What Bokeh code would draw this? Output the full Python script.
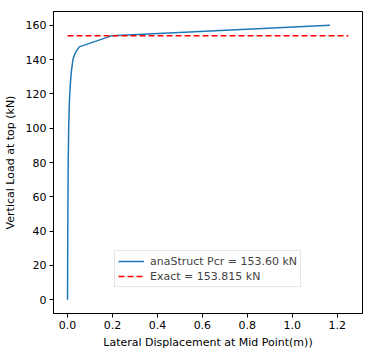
from bokeh.plotting import figure
from bokeh.models import Range1d, Legend, LegendItem, FixedTicker
from bokeh.embed import file_html
from bokeh.resources import INLINE

# Data
disp = [0.0, 0.0005, 0.001, 0.002, 0.003, 0.005, 0.008, 0.012, 0.017, 0.022, 0.026, 0.035, 0.052, 0.195, 1.168]
load = [0.0, 20.0, 40.0, 60.0, 80.0, 100.0, 115.0, 125.0, 133.0, 138.0, 141.0, 144.0, 147.4, 153.8, 160.0]
exact_x = [0.0, 1.25]
exact_y = [153.815, 153.815]
x_ticks = [0.0, 0.2, 0.4, 0.6, 0.8, 1.0, 1.2]
y_ticks = [0, 20, 40, 60, 80, 100, 120, 140, 160]
label_curve = "anaStruct Pcr = 153.60 kN"
label_exact = "Exact = 153.815 kN"

FONT = "DejaVu Sans"

p = figure(width=372, height=353, output_backend="svg", toolbar_location=None,
           x_range=Range1d(-0.0625, 1.3125), y_range=Range1d(-8, 168),
           min_border_left=52, min_border_right=10, min_border_top=11, min_border_bottom=40)
p.background_fill_color = "white"
p.border_fill_color = "white"
p.outline_line_color = "black"
p.outline_line_width = 1
p.grid.visible = False

r1 = p.line(disp, load, line_color="#1f77b4", line_width=1.5)
r2 = p.line(exact_x, exact_y, line_color="red", line_width=1.5, line_dash="6 3")

for ax in (p.xaxis[0], p.yaxis[0]):
    ax.major_tick_in = 0
    ax.major_tick_out = 4
    ax.minor_tick_line_color = None
    ax.axis_line_color = "black"
    ax.major_label_text_font = FONT
    ax.major_label_text_font_size = "11px"
    ax.major_label_text_color = "black"
    ax.axis_label_text_font = FONT
    ax.axis_label_text_font_size = "11px"
    ax.axis_label_text_font_style = "normal"
    ax.axis_label_text_color = "black"

p.xaxis[0].ticker = FixedTicker(ticks=x_ticks)
p.yaxis[0].ticker = FixedTicker(ticks=y_ticks)
p.xaxis[0].major_label_overrides = {t: f"{t:.1f}" for t in x_ticks}
p.xaxis[0].axis_label = "Lateral Displacement at Mid Point(m))"
p.yaxis[0].axis_label = "Vertical Load at top (kN)"
p.xaxis[0].axis_label_standoff = 4
p.yaxis[0].axis_label_standoff = 6
p.xaxis[0].major_label_standoff = 3
p.yaxis[0].major_label_standoff = 3

legend = Legend(items=[LegendItem(label=label_curve, renderers=[r1]),
                       LegendItem(label=label_exact, renderers=[r2])],
                location=(61, 26))
legend.label_text_font = FONT
legend.label_text_font_size = "11px"
legend.glyph_width = 26
legend.glyph_height = 14
legend.label_height = 14
legend.spacing = 1
legend.padding = 3
legend.margin = 0
legend.label_standoff = 6
legend.border_line_color = "#cccccc"
legend.border_line_width = 1
legend.background_fill_color = "white"
legend.background_fill_alpha = 0.8
p.add_layout(legend, "center")

open("out.html", "w").write(file_html(p, INLINE))
